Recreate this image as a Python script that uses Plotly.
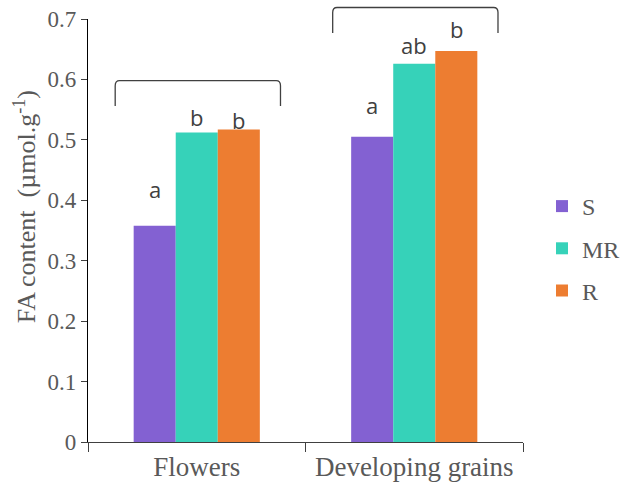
import plotly.graph_objects as go

categories = ["Flowers", "Developing grains"]
series_names = ["S", "MR", "R"]
S_vals = [0.358, 0.505]
MR_vals = [0.512, 0.626]
R_vals = [0.517, 0.647]
letters_S = ["a", "a"]
letters_MR = ["b", "ab"]
letters_R = ["b", "b"]
letter_y_S = [0.418, 0.557]
letter_y_MR = [0.538, 0.657]
letter_y_R = [0.533, 0.683]
colors = {"S": "#8361D2", "MR": "#36D2B9", "R": "#ED7D31"}

values = {"S": S_vals, "MR": MR_vals, "R": R_vals}
letters = {"S": letters_S, "MR": letters_MR, "R": letters_R}
letter_y = {"S": letter_y_S, "MR": letter_y_MR, "R": letter_y_R}

SERIF = "Liberation Serif, Times New Roman, serif"

fig = go.Figure()
for name in series_names:
    fig.add_trace(go.Bar(
        x=categories, y=values[name], name=name,
        marker=dict(color=colors[name], line=dict(width=0)),
        legendgroup=name,
    ))

# significance letters
offsets = {"S": -1, "MR": 0, "R": 1}
bar_w = (1 - 0.42) / 3
for name in series_names:
    for ci in range(len(categories)):
        fig.add_annotation(
            x=ci + offsets[name] * bar_w, y=letter_y[name][ci],
            xref="x", yref="y", text=letters[name][ci], showarrow=False,
            font=dict(family="Open Sans", size=22, color="#404040"),
        )

# Brackets above groups (paper y = value / 0.7)
brackets = [(0, 0.556, 0.598), (1, 0.677, 0.719)]
for xc, ybot, ytop in brackets:
    x0, x1 = xc - 0.375, xc + 0.385
    yb, yt = ybot / 0.7, ytop / 0.7
    d = 0.012
    fig.add_shape(type="path", xref="x", yref="paper",
                  path=f"M {x0},{yb} L {x0},{yt - d} Q {x0},{yt} {x0 + 0.02},{yt} "
                       f"L {x1 - 0.02},{yt} Q {x1},{yt} {x1},{yt - d} L {x1},{yb}",
                  line=dict(color="#404040", width=1.3))

# y-axis title
fig.add_annotation(
    x=-0.145, y=0.557, xref="paper", yref="paper", textangle=-90,
    xanchor="center", yanchor="middle",
    text="FA content  (µmol.g<sup>-1</sup>)", showarrow=False,
    font=dict(family=SERIF, size=26, color="#595959"),
)

fig.update_layout(
    width=621, height=493,
    margin=dict(l=88, r=98, t=19, b=51, autoexpand=False),
    paper_bgcolor="white", plot_bgcolor="white",
    barmode="group", bargap=0.42, bargroupgap=0,
    showlegend=True,
    legend=dict(xref="container", yref="container",
                x=542 / 621, y=1 - 184 / 493, xanchor="left", yanchor="top",
                font=dict(family=SERIF, size=24, color="#595959"),
                tracegroupgap=8, itemwidth=30),
    font=dict(family=SERIF, color="#595959"),
)
fig.update_xaxes(
    showline=True, linecolor="#404040", linewidth=1.3,
    ticks="outside", tickson="boundaries", ticklen=9, tickcolor="#404040",
    tickfont=dict(family=SERIF, size=27, color="#595959"),
    showgrid=False,
)
fig.update_yaxes(
    range=[0, 0.7], dtick=0.1, tick0=0,
    showline=True, linecolor="#000000", linewidth=1.3,
    ticks="outside", ticklen=6, tickcolor="#404040",
    tickfont=dict(family=SERIF, size=23, color="#595959"),
    tickformat="~g",
    showgrid=False, zeroline=False,
)

fig.write_html("out.html")
